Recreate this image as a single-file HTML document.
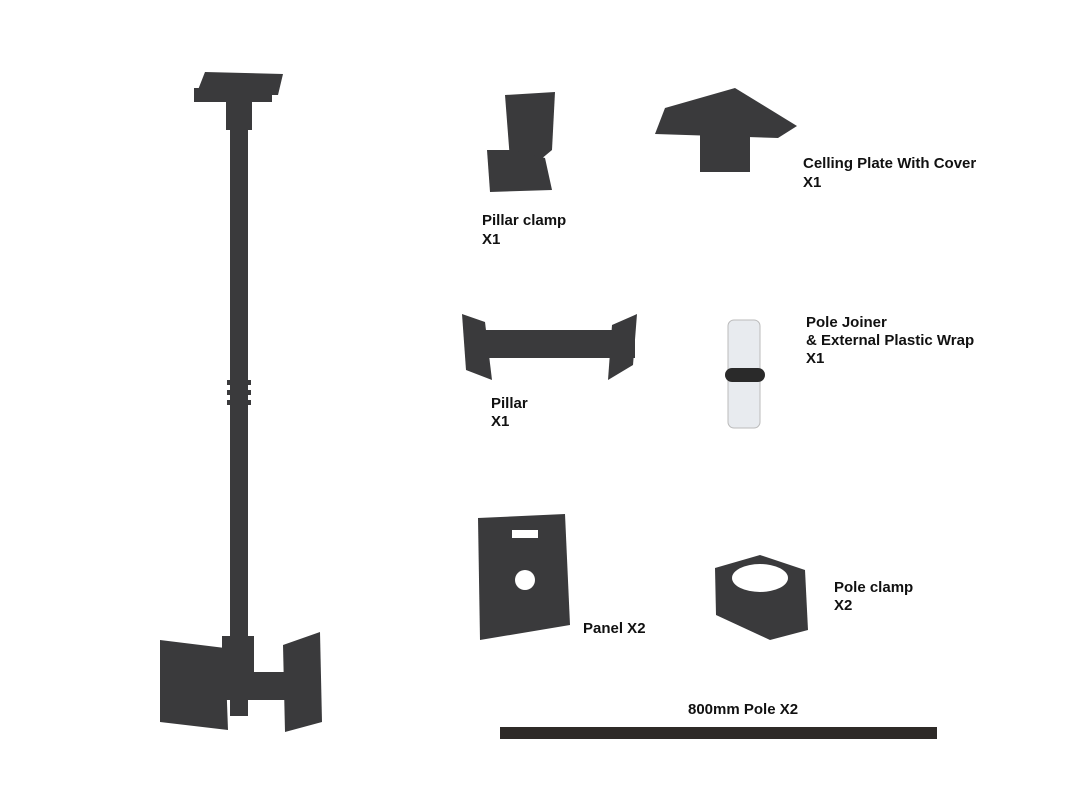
<!DOCTYPE html>
<html><head><meta charset="utf-8"><style>
html,body{margin:0;padding:0;background:#fff;}
svg{display:block}
text{font-family:"Liberation Sans",sans-serif;font-weight:bold;font-size:15px;fill:#111}
</style></head><body>
<svg width="1080" height="810" viewBox="0 0 1080 810">
<g fill="#3a3a3c">
<!-- full mount -->
<polygon points="205,72 283,74 278,95 196,95"/>
<rect x="194" y="88" width="78" height="14"/>
<rect x="226" y="90" width="26" height="40"/>
<rect x="230" y="100" width="18" height="540"/>
<rect x="227" y="380" width="24" height="5"/><rect x="227" y="390" width="24" height="5"/><rect x="227" y="400" width="24" height="5"/>
<rect x="222" y="636" width="32" height="40"/>
<rect x="208" y="672" width="80" height="28"/>
<rect x="230" y="690" width="18" height="26"/>
<polygon points="160,640 225,648 228,730 160,722"/>
<polygon points="283,645 320,632 322,722 285,732"/>
<!-- pillar clamp -->
<polygon points="505,95 555,92 552,150 540,160 510,160"/>
<polygon points="487,150 512,150 545,158 552,190 490,192"/>
<!-- ceiling plate -->
<polygon points="665,108 735,88 797,126 778,138 655,134"/>
<rect x="700" y="125" width="50" height="47"/>
<!-- pillar -->
<rect x="470" y="330" width="165" height="28"/>
<polygon points="462,314 485,322 492,380 466,370"/>
<polygon points="612,325 637,314 633,365 608,380"/>
<!-- panel -->
<polygon points="478,518 565,514 570,625 480,640"/>
<!-- pole clamp -->
<polygon points="715,568 760,555 805,570 808,630 770,640 716,615"/>
<!-- pole -->
<rect x="500" y="727" width="437" height="12" fill="#2e2a28"/>
</g>
<circle cx="525" cy="580" r="10" fill="#fff"/>
<rect x="512" y="530" width="26" height="8" fill="#fff"/>
<ellipse cx="760" cy="578" rx="28" ry="14" fill="#fff"/>
<!-- pole joiner -->
<rect x="728" y="320" width="32" height="108" rx="6" fill="#e8ebef" stroke="#bbb"/>
<rect x="725" y="368" width="40" height="14" rx="7" fill="#2a2a2a"/>
<text x="482" y="225">Pillar clamp</text><text x="482" y="244">X1</text>
<text x="803" y="168">Celling Plate With Cover</text><text x="803" y="187">X1</text>
<text x="806" y="327">Pole Joiner</text><text x="806" y="345">&amp; External Plastic Wrap</text><text x="806" y="363">X1</text>
<text x="491" y="408">Pillar</text><text x="491" y="426">X1</text>
<text x="583" y="633">Panel X2</text>
<text x="834" y="592">Pole clamp</text><text x="834" y="610">X2</text>
<text x="688" y="714">800mm Pole X2</text>
</svg>
</body></html>
